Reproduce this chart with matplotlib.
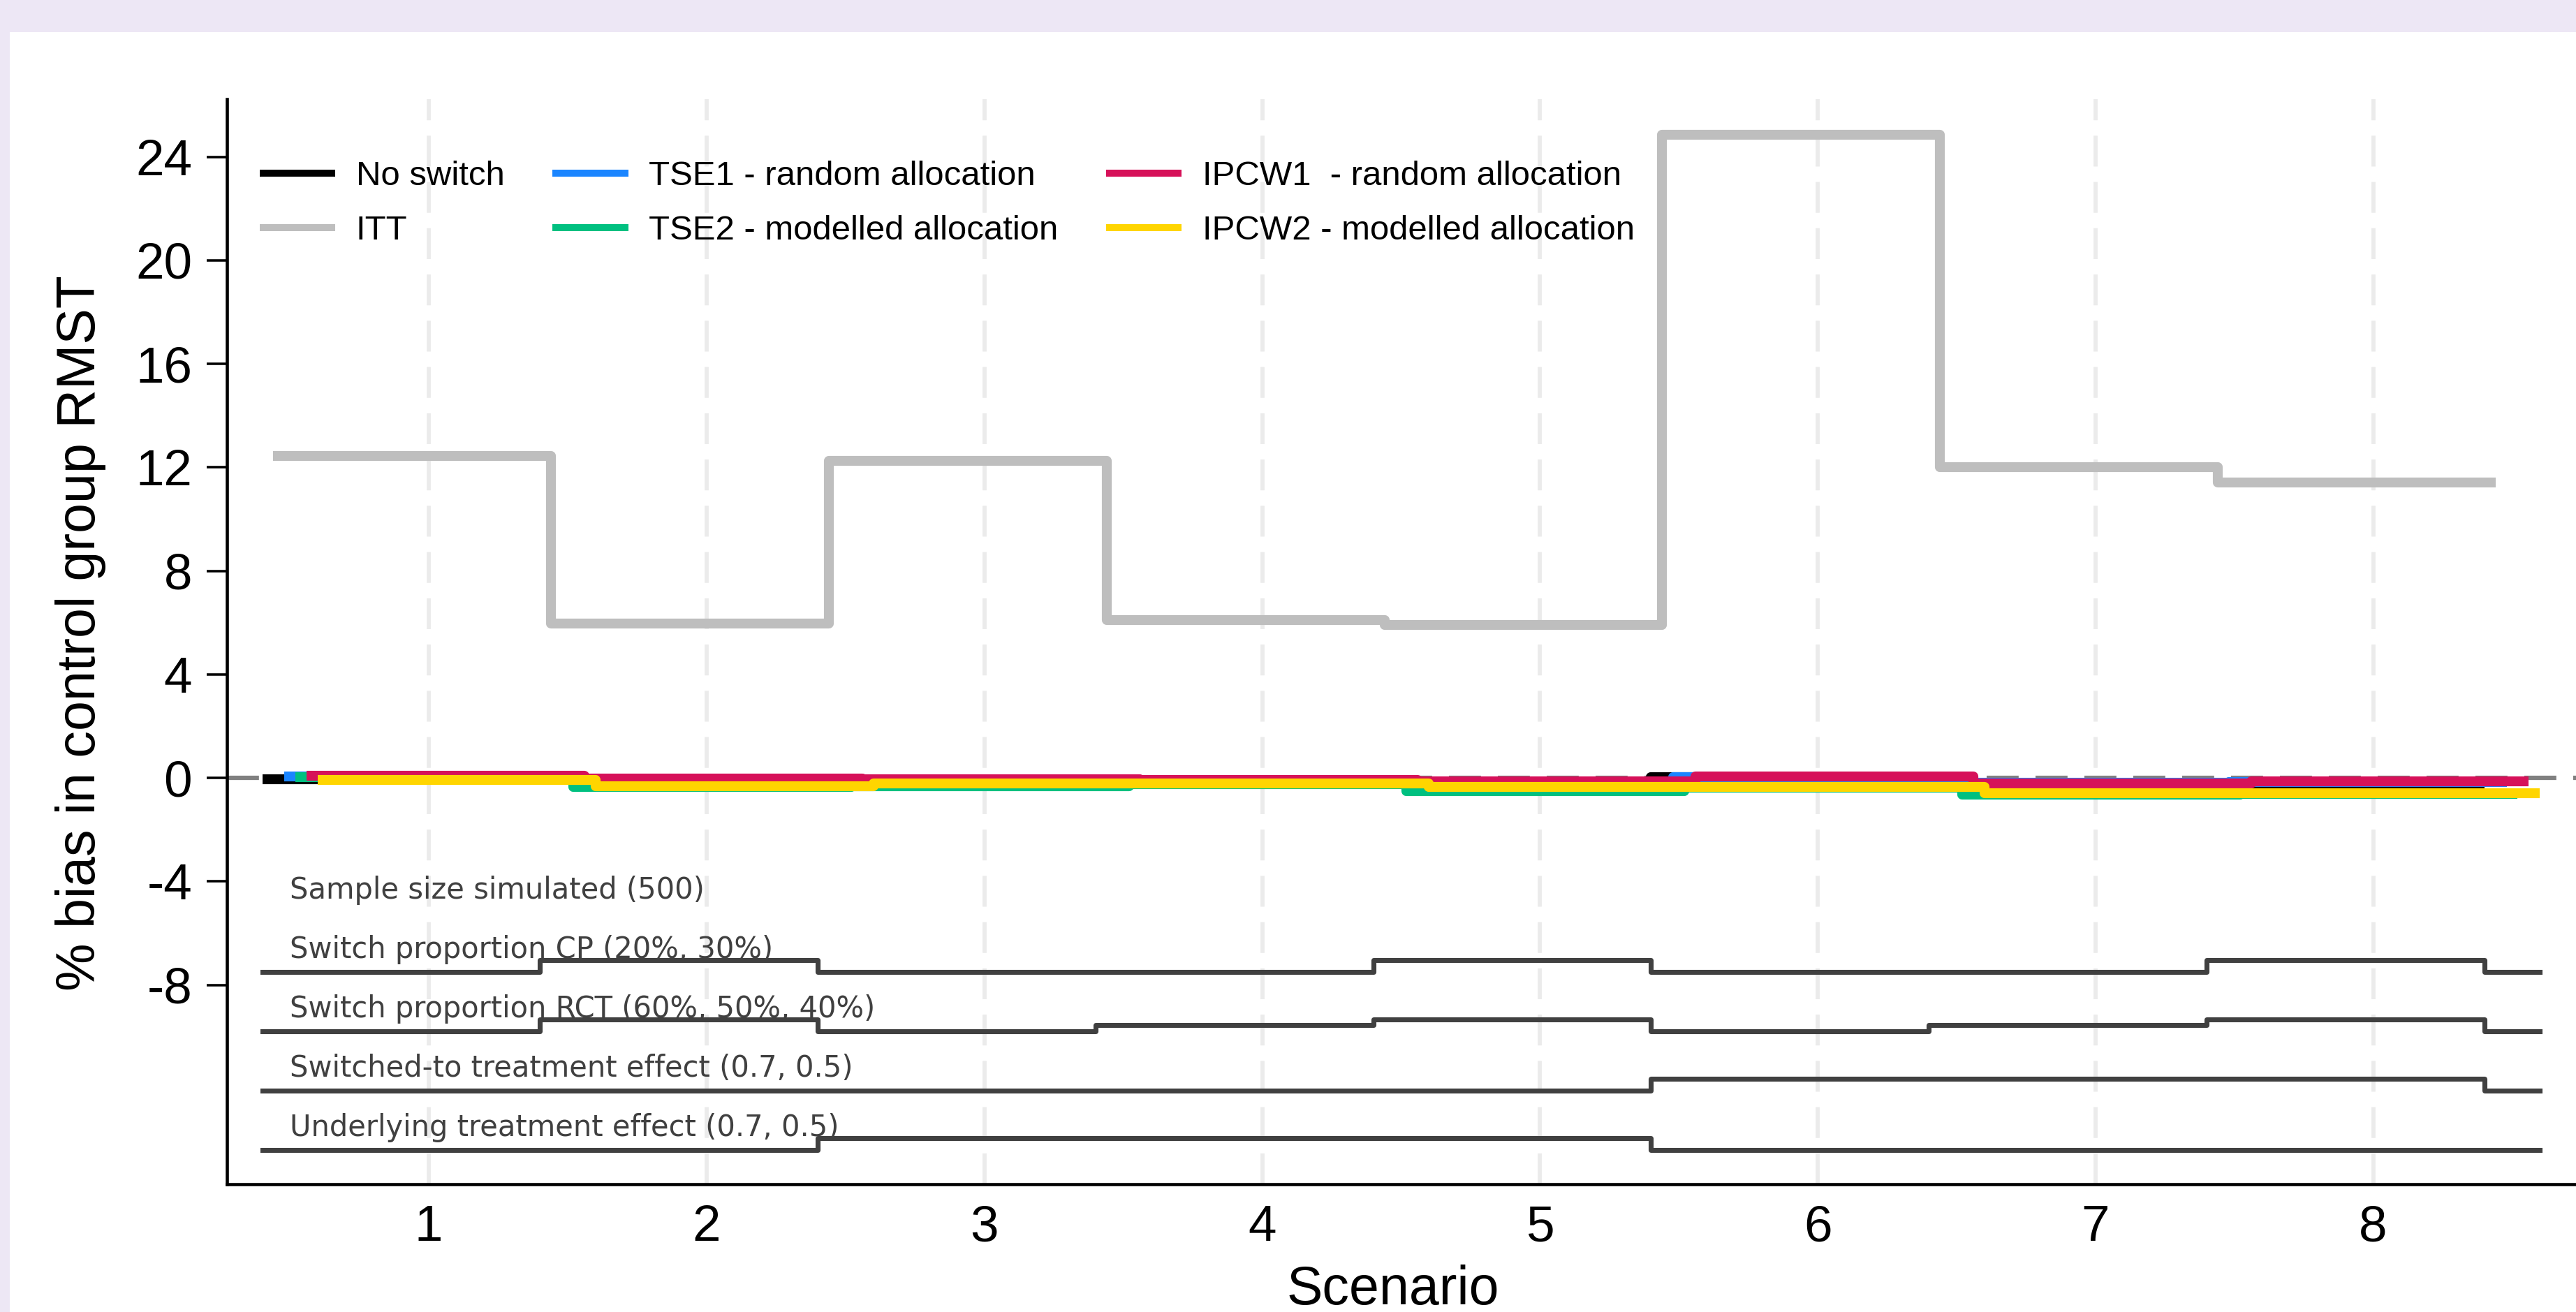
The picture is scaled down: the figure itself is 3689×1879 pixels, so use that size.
import matplotlib
matplotlib.use('Agg')
import matplotlib.pyplot as plt
from matplotlib.lines import Line2D
from matplotlib.patches import Rectangle

plt.rcParams['font.family'] = ['Liberation Sans', 'DejaVu Sans']
plt.rcParams['axes.unicode_minus'] = False
plt.rcParams['lines.scale_dashes'] = False

scenarios = [1, 2, 3, 4, 5, 6, 7, 8]

# % bias in control group RMST
no_switch = [-0.04, -0.05, -0.10, -0.10, -0.15, 0.02, -0.20, -0.23]
itt = [12.44, 5.97, 12.25, 6.10, 5.90, 24.85, 12.00, 11.43]
tse1 = [0.07, -0.05, -0.08, -0.10, -0.15, 0.02, -0.18, -0.16]
tse2 = [0.04, -0.34, -0.32, -0.25, -0.50, -0.37, -0.64, -0.61]
ipcw1 = [0.09, -0.03, -0.04, -0.07, -0.14, 0.06, -0.22, -0.12]
ipcw2 = [-0.08, -0.31, -0.21, -0.22, -0.36, -0.36, -0.59, -0.58]

method_labels = ['No switch', 'ITT', 'TSE1 - random allocation',
                 'TSE2 - modelled allocation', 'IPCW1  - random allocation',
                 'IPCW2 - modelled allocation']

# nested loop part: level of each factor per scenario (0 = lowest)
factor_labels = ['Sample size simulated (500)',
                 'Switch proportion CP (20%, 30%)',
                 'Switch proportion RCT (60%, 50%, 40%)',
                 'Switched-to treatment effect (0.7, 0.5)',
                 'Underlying treatment effect (0.7, 0.5)']
cp_level = [0, 1, 0, 0, 1, 0, 0, 1]
rct_level = [0, 2, 0, 1, 2, 0, 1, 2]
switched_to_level = [0, 0, 0, 0, 0, 1, 1, 1]
underlying_level = [0, 0, 1, 1, 1, 0, 0, 0]

colors = ['black', '#BEBEBE', '#1A85FF', '#00C080', '#D61159', '#FFD500']
offsets = [0.40, 0.44, 0.48, 0.52, 0.56, 0.60]

W, H = 3689, 1879
fig = plt.figure(figsize=(W / 300, H / 300), dpi=300, facecolor='#EDE7F5')
fig.add_artist(Rectangle((14 / W, 0), 1 - 14 / W, 1 - 46 / H, transform=fig.transFigure,
                         facecolor='white', edgecolor='none', zorder=-10))

ax = fig.add_axes([325 / W, 1 - 1696 / H, 1 - 325 / W, (1696 - 142) / H])
ax.set_facecolor('white')

ax.grid(axis='x', color='#EBEBEB', lw=1.4, linestyle=(0, (10.6, 5.3)))
ax.set_axisbelow(True)
ax.axhline(0, color='#808080', lw=1.5, linestyle=(0, (11, 5.8)), zorder=1.6)

# factor lines + labels
text_y0 = -4.67
row_gap = 2.29
loop_x = [s - 0.6 for s in scenarios] + [8.4, 8.6]
for k, lab in enumerate(factor_labels):
    ax.text(0.5, text_y0 - k * row_gap, lab, fontsize=10, family='DejaVu Sans',
            color='#404040', ha='left', va='baseline')
for k, levels in enumerate([cp_level, rct_level, switched_to_level, underlying_level], start=1):
    low = text_y0 - k * row_gap - 0.54
    n = max(levels)
    ys = [low + 0.46 * v / n for v in levels] + [low, low]
    ax.plot(loop_x, ys, drawstyle='steps-post', color='#404040', lw=1.7)

# methods
series = [no_switch, itt, tse1, tse2, ipcw1, ipcw2]
for vals, c, off in zip(series, colors, offsets):
    xs = [s - 1 + off for s in scenarios] + [8 + off]
    ys = vals + [vals[-1]]
    ax.plot(xs, ys, drawstyle='steps-post', color=c, lw=3.4,
            solid_joinstyle='round', solid_capstyle='butt')

ax.set_xlim(0.273, 8.73)
ax.set_ylim(-15.70, 26.23)
ax.set_xticks(scenarios)
ax.set_yticks(range(-8, 25, 4))

for side in ['top', 'right']:
    ax.spines[side].set_visible(False)
for side in ['left', 'bottom']:
    ax.spines[side].set_linewidth(1.1)
    ax.spines[side].set_color('black')

ax.tick_params(axis='y', length=7, width=0.85, pad=5, labelsize=17.5, direction='out')
ax.tick_params(axis='x', length=0, pad=7, labelsize=17.5)

ax.set_ylabel('% bias in control group RMST', fontsize=18.5)
ax.yaxis.label.set_va('center')
ax.yaxis.set_label_coords(-0.0624, 0.508)
ax.set_xlabel('Scenario', fontsize=18.5)
ax.xaxis.label.set_va('baseline')
ax.xaxis.set_label_coords(0.4964, -0.1110)

handles = [Line2D([0], [0], color=c, lw=2.4, solid_capstyle='butt') for c in colors]
fig.legend(handles, method_labels, loc='upper left',
           bbox_to_anchor=(372 / W, 1 - 230 / H), ncol=3, frameon=False,
           fontsize=11.8, handlelength=2.2, handletextpad=0.6, columnspacing=1.4,
           labelspacing=0.67, borderpad=0, borderaxespad=0)

fig.savefig('out.png', dpi=300, facecolor=fig.get_facecolor())
